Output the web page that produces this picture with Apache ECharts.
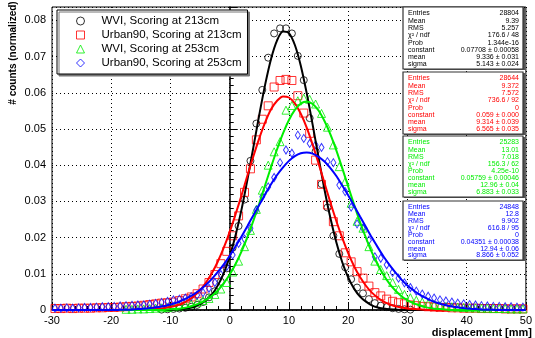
<!DOCTYPE html>
<html>
<head>
<meta charset="utf-8">
<script src="https://cdn.jsdelivr.net/npm/echarts@6/dist/echarts.min.js"></script>
<style>
html, body { margin: 0; padding: 0; background: #fff; }
#main { width: 535px; height: 338px; }
</style>
</head>
<body>
<div id="main"></div>
<script>
// bin centres [mm]
var binX = [-29.5,-28.5,-27.5,-26.5,-25.5,-24.5,-23.5,-22.5,-21.5,-20.5,
	-19.5,-18.5,-17.5,-16.5,-15.5,-14.5,-13.5,-12.5,-11.5,-10.5,
	-9.5,-8.5,-7.5,-6.5,-5.5,-4.5,-3.5,-2.5,-1.5,-0.5,
	0.5,1.5,2.5,3.5,4.5,5.5,6.5,7.5,8.5,9.5,
	10.5,11.5,12.5,13.5,14.5,15.5,16.5,17.5,18.5,19.5,
	20.5,21.5,22.5,23.5,24.5,25.5,26.5,27.5,28.5,29.5,
	30.5,31.5,32.5,33.5,34.5,35.5,36.5,37.5,38.5,39.5,
	40.5,41.5,42.5,43.5,44.5,45.5,46.5,47.5,48.5,49.5];

// histogram contents (normalized)
var wvi213 = [null,null,null,null,null,null,null,null,null,null,
	null,null,null,null,null,null,null,null,0.0001,0.0002,
	0.0003,0.0004,0.0006,0.0009,0.0014,0.0022,0.0035,0.0052,0.0078,0.0115,
	0.0172,0.0232,0.0305,0.0412,0.0515,0.0608,0.0697,0.0764,0.0778,0.0778,
	0.0764,0.0702,0.0635,0.053,0.0438,0.0348,0.0283,0.0205,0.0155,0.0118,
	0.0085,0.0062,0.0046,0.003,0.0019,0.0012,0.0008,0.0005,0.0003,0.0002,
	0.0001,null,null,null,null,null,null,null,null,null,
	null,null,null,null,null,null,null,null,null,null];
var urban213 = [0.0004,0.0004,0.0005,0.0004,0.0005,0.0005,0.0005,0.0006,0.0006,0.0007,
	0.0007,0.0008,0.0009,0.001,0.0011,0.0013,0.0015,0.0017,0.0019,0.002,
	0.0022,0.0026,0.0031,0.0036,0.0045,0.0058,0.0076,0.0098,0.0128,0.0162,
	0.0205,0.026,0.0325,0.039,0.047,0.0527,0.0564,0.0616,0.0634,0.0637,
	0.0634,0.0592,0.0544,0.0488,0.0414,0.0347,0.029,0.0244,0.0205,0.0158,
	0.0133,0.0106,0.0088,0.0066,0.0048,0.0039,0.003,0.0024,0.002,0.0017,
	0.0014,0.0012,0.001,0.0009,0.0008,0.0007,0.0007,0.0006,0.0006,0.0005,
	0.0005,0.0005,0.0004,0.0004,0.0004,0.0004,0.0003,0.0003,0.0003,0.0003];
var wvi253 = [null,null,null,null,null,null,null,null,null,null,
	null,null,0.0002,0.0002,0.0003,0.0003,0.0004,0.0005,0.0006,0.0007,
	0.0009,0.0011,0.0014,0.0017,0.0021,0.0026,0.0032,0.0043,0.0058,0.0076,
	0.0105,0.0135,0.0175,0.022,0.0278,0.0331,0.04,0.0437,0.0465,0.0552,
	0.0565,0.0578,0.0585,0.0582,0.0569,0.0543,0.0505,0.0456,0.0396,0.0355,
	0.0295,0.0245,0.0226,0.0175,0.0135,0.0112,0.0095,0.0076,0.0057,0.0043,
	0.0034,0.0027,0.0022,0.0018,0.0015,0.0012,0.001,0.0009,0.0008,0.0007,
	0.0006,0.0006,0.0005,0.0005,0.0004,0.0004,0.0004,0.0003,0.0003,0.0003];
var urban253 = [0.0005,0.0005,0.0006,0.0005,0.0006,0.0007,0.0007,0.0008,0.0009,0.0009,
	0.001,0.0011,0.0012,0.0013,0.0014,0.0014,0.0016,0.0018,0.0021,0.0024,
	0.0028,0.003,0.0033,0.0037,0.0041,0.0048,0.006,0.0076,0.0098,0.012,
	0.0152,0.0184,0.0196,0.0226,0.0276,0.0313,0.034,0.0366,0.0407,0.0442,
	0.0433,0.0483,0.0474,0.046,0.0456,0.0449,0.041,0.0407,0.0345,0.0327,
	0.0284,0.0238,0.0226,0.0193,0.0147,0.0143,0.0125,0.0104,0.0088,0.0075,
	0.0062,0.0052,0.0044,0.0038,0.0033,0.0028,0.0025,0.0022,0.0019,0.0017,
	0.0015,0.0014,0.0012,0.0011,0.001,0.001,0.0009,0.0009,0.0008,0.0008];

// gaussian fit curves, read at every mm
var fitX = [-30,-29,-28,-27,-26,-25,-24,-23,-22,-21,-20,-19,-18,-17,-16,-15,-14,-13,-12,-11,
	-10,-9,-8,-7,-6,-5,-4,-3,-2,-1,0,1,2,3,4,5,6,7,8,9,
	10,11,12,13,14,15,16,17,18,19,20,21,22,23,24,25,26,27,28,29,
	30,31,32,33,34,35,36,37,38,39,40,41,42,43,44,45,46,47,48,49,50];
var fitWvi213 = [0,0,0,0,0,0,0,0,0,0,0,0,0,0,0,0,0,0,0,0,
	0.0001,0.0002,0.0003,0.0005,0.0009,0.0016,0.0027,0.0043,0.0068,0.0102,
	0.0148,0.0207,0.0278,0.0361,0.045,0.054,0.0624,0.0695,0.0745,0.0769,
	0.0765,0.0732,0.0675,0.0599,0.0512,0.0421,0.0333,0.0254,0.0187,0.0132,
	0.009,0.0059,0.0037,0.0023,0.0013,0.0007,0.0004,0.0002,0.0001,
	0,0,0,0,0,0,0,0,0,0,0,0,0,0,0,0,0,0,0,0,0,0,0];
var fitUrban213 = [0,0,0,0,0,0,0,0,0,0,0,0,0,0,0,0,0,
	0.0002,0.0003,0.0005,0.0008,0.0012,0.0018,0.0027,0.0039,0.0055,0.0076,0.0102,0.0134,0.0172,
	0.0216,0.0265,0.0317,0.0372,0.0425,0.0475,0.0519,0.0555,0.0578,0.059,
	0.0587,0.0571,0.0542,0.0504,0.0457,0.0405,0.0351,0.0297,0.0246,0.0199,
	0.0157,0.0121,0.0091,0.0067,0.0048,0.0034,0.0023,0.0016,0.001,0.0007,
	0.0004,0.0003,0.0002,
	0,0,0,0,0,0,0,0,0,0,0,0,0,0,0,0,0,0];
var fitWvi253 = [0,0,0,0,0,0,0,0,0,0,0,0,0,0,0,0,0,0,0,0,
	0.0002,0.0003,0.0005,0.0008,0.0013,0.0019,0.0028,0.0039,0.0054,0.0074,
	0.0098,0.0127,0.0162,0.0202,0.0247,0.0295,0.0346,0.0396,0.0444,0.0488,
	0.0525,0.0553,0.057,0.0576,0.0569,0.0551,0.0522,0.0485,0.0441,0.0392,
	0.0341,0.0291,0.0243,0.0199,0.0159,0.0125,0.0096,0.0072,0.0053,0.0038,
	0.0027,0.0019,0.0013,0.0008,0.0005,0.0003,0.0002,
	0,0,0,0,0,0,0,0,0,0,0,0,0,0];
var fitUrban253 = [0,0,0,0,0,0,0,0,0,0,0,0,
	0.0001,0.0001,0.0002,0.0003,0.0004,0.0006,0.0008,0.0011,
	0.0015,0.002,0.0027,0.0035,0.0044,0.0056,0.007,0.0086,0.0105,0.0126,
	0.015,0.0176,0.0203,0.0232,0.0262,0.0291,0.032,0.0348,0.0373,0.0394,
	0.0412,0.0425,0.0433,0.0435,0.0432,0.0423,0.041,0.0392,0.037,0.0344,
	0.0317,0.0288,0.0258,0.0229,0.02,0.0173,0.0147,0.0124,0.0103,0.0084,
	0.0068,0.0055,0.0043,0.0034,0.0026,0.002,0.0015,0.0011,0.0008,0.0006,
	0.0004,0.0003,0.0002,0.0001,0.0001,
	0,0,0,0,0,0];

// stat boxes
var statLabels = ['Entries', 'Mean', 'RMS', 'χ² / ndf', 'Prob', 'constant', 'mean', 'sigma'];
var statWvi213 = ['28804', '9.39', '5.257', '176.6 / 48', '1.344e-16', '0.07708 ± 0.00058', '9.336 ± 0.031', '5.143 ± 0.024'];
var statUrban213 = ['28644', '9.372', '7.572', '736.6 / 92', '0', '0.059 ± 0.000', '9.314 ± 0.039', '6.565 ± 0.035'];
var statWvi253 = ['25283', '13.01', '7.018', '156.3 / 62', '4.25e-10', '0.05759 ± 0.00046', '12.96 ± 0.04', '6.883 ± 0.033'];
var statUrban253 = ['24848', '12.8', '9.902', '616.8 / 95', '0', '0.04351 ± 0.00038', '12.94 ± 0.06', '8.866 ± 0.052'];

var names = ['WVI, Scoring at 213cm', 'Urban90, Scoring at 213cm', 'WVI, Scoring at 253cm', 'Urban90, Scoring at 253cm'];
var colors = ['#000000', '#ff0000', '#00ee00', '#0000ff'];
var symbols = ['circle', 'rect', 'triangle', 'diamond'];
var symbolSizes = [7, 8, 8, [5, 8]];

function pts(xs, ys) {
	var out = [];
	for (var i = 0; i < xs.length; i++) {
		if (ys[i] !== null) out.push([xs[i], ys[i]]);
	}
	return out;
}

var histData = [wvi213, urban213, wvi253, urban253];
var fitData = [fitWvi213, fitUrban213, fitWvi253, fitUrban253];
var series = [];
for (var k = 0; k < 4; k++) {
	series.push({
		name: names[k],
		type: 'scatter',
		data: pts(binX, histData[k]),
		symbol: symbols[k],
		symbolSize: symbolSizes[k],
		itemStyle: { color: 'rgba(255,255,255,0)', borderColor: colors[k], borderWidth: 1 },
		z: 3
	});
}
for (var k = 0; k < 4; k++) {
	series.push({
		name: 'fit' + k,
		type: 'line',
		data: pts(fitX, fitData[k]),
		showSymbol: false,
		smooth: 0.3,
		lineStyle: { color: colors[k], width: 2 },
		z: 4
	});
}

// legend entries, hollow markers
var legendData = [];
for (var k = 0; k < 4; k++) {
	legendData.push({
		name: names[k],
		icon: symbols[k],
		itemStyle: { color: 'rgba(255,255,255,0)', borderColor: colors[k], borderWidth: 1 }
	});
}

// stat boxes on the right
var stats = [statWvi213, statUrban213, statWvi253, statUrban253];
var boxTop = [7, 72, 136, 201];
var boxH = [62, 62, 61, 59];
var graphics = [];
for (var b = 0; b < 4; b++) {
	graphics.push({
		type: 'rect', z: 100,
		shape: { x: 404, y: boxTop[b] + 1, width: 121, height: boxH[b] },
		style: { fill: '#555' }
	});
	graphics.push({
		type: 'rect', z: 101,
		shape: { x: 403, y: boxTop[b], width: 120, height: boxH[b] },
		style: { fill: '#fff', stroke: '#333', lineWidth: 1.2 }
	});
	var step = (boxH[b] - 11) / 7;
	for (var r = 0; r < 8; r++) {
		var yy = boxTop[b] + 6.5 + r * step;
		graphics.push({
			type: 'text', z: 102, x: 408, y: yy,
			style: { text: statLabels[r], fill: colors[b], font: '7px "Liberation Sans"', verticalAlign: 'middle' }
		});
		graphics.push({
			type: 'text', z: 102, x: 519, y: yy,
			style: { text: stats[b][r], fill: colors[b], font: '7px "Liberation Sans"', align: 'right', verticalAlign: 'middle' }
		});
	}
}
graphics.push({
	type: 'text', z: 102, x: 13, y: 53, rotation: Math.PI / 2,
	style: { text: '# counts (normalized)', fill: '#000', font: 'bold 10px "Liberation Sans"', align: 'center', verticalAlign: 'middle' }
});
graphics.push({
	type: 'text', z: 102, x: 532, y: 333,
	style: { text: 'displacement [mm]', fill: '#000', font: 'bold 11px "Liberation Sans"', align: 'right', verticalAlign: 'middle' }
});

var myChart = echarts.init(document.getElementById('main'));
var option = {
	animation: false,
	backgroundColor: '#fff',
	textStyle: { fontFamily: 'Liberation Sans' },
	grid: {
		left: 52, right: 3, top: 7, bottom: 28,
		show: true, borderColor: '#000', borderWidth: 1
	},
	legend: {
		data: legendData,
		orient: 'vertical',
		left: 57, top: 10,
		padding: [5, 6, 5, 19],
		itemWidth: 8, itemHeight: 8, itemGap: 2,
		backgroundColor: '#fff',
		borderColor: '#000', borderWidth: 1,
		shadowColor: '#777', shadowOffsetX: 2, shadowOffsetY: 2, shadowBlur: 0,
		textStyle: { fontSize: 11.5, color: '#000', fontFamily: 'Liberation Sans', padding: [0, 0, 0, 12] }
	},
	xAxis: {
		type: 'value', min: -30, max: 50, interval: 10,
		axisLine: { onZero: false, lineStyle: { color: '#000', width: 1.5 } },
		axisTick: { inside: true, length: 8, lineStyle: { color: '#000' } },
		minorTick: { show: true, splitNumber: 5, length: 4, lineStyle: { color: '#000' } },
		axisLabel: { color: '#000', fontSize: 11, margin: 5 },
		splitLine: { show: true, lineStyle: { color: '#000', type: [1, 3], width: 1 } }
	},
	yAxis: {
		type: 'value', min: 0, max: 0.0837, interval: 0.01,
		axisLine: { show: true, lineStyle: { color: '#000', width: 1.5 } },
		axisTick: { show: true, inside: true, length: 8, lineStyle: { color: '#000' } },
		minorTick: { show: true, splitNumber: 5, length: 4, lineStyle: { color: '#000' } },
		axisLabel: { color: '#000', fontSize: 11, margin: 6, showMaxLabel: false },
		splitLine: { show: true, lineStyle: { color: '#000', type: [1, 3], width: 1 } }
	},
	series: series,
	graphic: graphics
};
myChart.setOption(option);
</script>
</body>
</html>
